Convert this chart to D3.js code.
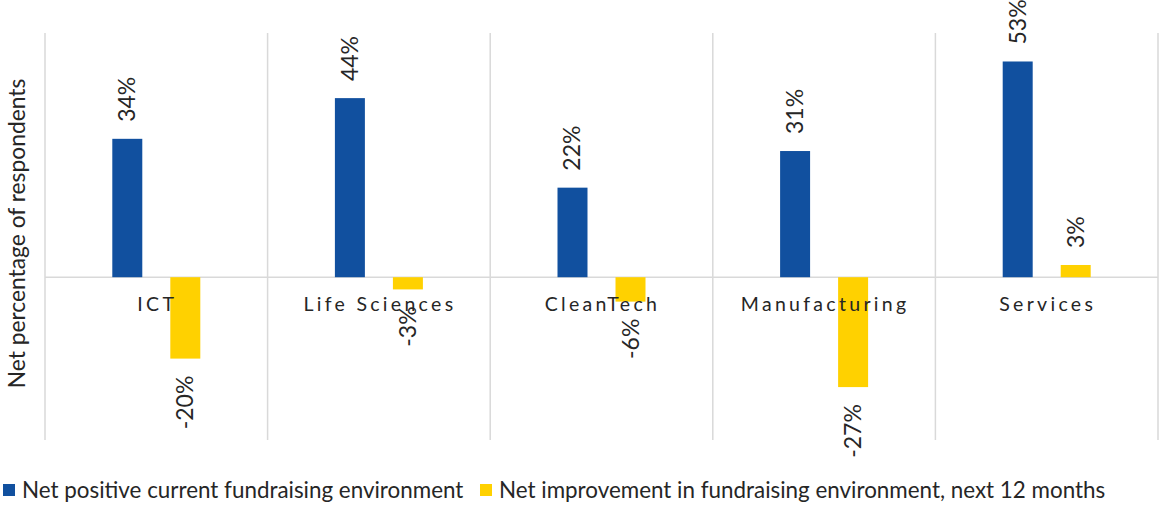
<!DOCTYPE html>
<html>
<head>
<meta charset="utf-8">
<script src="https://cdn.jsdelivr.net/npm/d3@7"></script>
<style>
  body { margin: 0; background: #fff; }
  svg { display: block; font-family: Lato, "Liberation Sans", sans-serif; }
</style>
</head>
<body>
<div id="chart"></div>
<script>
const categories = ["ICT", "Life Sciences", "CleanTech", "Manufacturing", "Services"];
const seriesNames = [
    "Net positive current fundraising environment",
    "Net improvement in fundraising environment, next 12 months"
];
const currentValues = [34, 44, 22, 31, 53];
const nextValues = [-20, -3, -6, -27, 3];
const colors = ["#11509f", "#ffd100"];

const width = 1159;
const height = 505;
const margin = { top: 33, right: 1, bottom: 65, left: 45 };

const svg = d3.select("#chart").append("svg")
    .attr("width", width)
    .attr("height", height);

const rows = categories.map((c, i) => ({ category: c, values: [currentValues[i], nextValues[i]] }));

const x0 = d3.scaleBand()
    .domain(categories)
    .range([margin.left, width - margin.right]);

const bw = x0.bandwidth();
const x1 = d3.scaleBand()
    .domain(d3.range(seriesNames.length))
    .range([bw / 2 - 44, bw / 2 + 44])
    .paddingInner(0.483);

const y = d3.scaleLinear()
    .domain([-40, 60])
    .range([height - margin.bottom, margin.top]);

// vertical gridlines at category boundaries
const bounds = categories.map(c => x0(c)).concat([x0(categories[categories.length - 1]) + bw]);
svg.append("g")
    .selectAll("line")
    .data(bounds)
    .enter().append("line")
        .attr("x1", d => d)
        .attr("x2", d => d)
        .attr("y1", y(60))
        .attr("y2", y(-40))
        .attr("stroke", "#d9d9d9")
        .attr("stroke-width", 1.5);

// zero line
svg.append("line")
    .attr("x1", margin.left)
    .attr("x2", width - margin.right)
    .attr("y1", y(0))
    .attr("y2", y(0))
    .attr("stroke", "#d9d9d9")
    .attr("stroke-width", 1.5);

const group = svg.selectAll(".cat")
    .data(rows)
    .enter().append("g")
        .attr("class", "cat")
        .attr("transform", d => `translate(${x0(d.category)},0)`);

group.selectAll("rect")
    .data(d => d.values)
    .enter().append("rect")
        .attr("x", (d, i) => x1(i))
        .attr("y", d => y(Math.max(0, d)))
        .attr("width", x1.bandwidth())
        .attr("height", d => Math.abs(y(d) - y(0)))
        .attr("fill", (d, i) => colors[i]);

// category labels
group.append("text")
    .attr("x", bw / 2 + 1)
    .attr("y", y(0) + 34)
    .attr("text-anchor", "middle")
    .style("font-size", "19.5px")
    .style("letter-spacing", "3.3px")
    .attr("fill", "#262626")
    .text(d => d.category);

// value labels, rotated
group.selectAll(".val")
    .data(d => d.values)
    .enter().append("text")
        .attr("class", "val")
        .attr("transform", (d, i) => {
            const cx = x1(i) + x1.bandwidth() / 2;
            const cy = d >= 0 ? y(d) - 17 : y(d) + 17;
            return `translate(${cx + 8},${cy}) rotate(-90)`;
        })
        .attr("text-anchor", d => d >= 0 ? "start" : "end")
        .style("font-size", "23px")
        .attr("fill", "#262626")
        .text(d => d + "%");

// y axis title
svg.append("text")
    .attr("transform", `translate(25,${(y(60) + y(-40)) / 2 - 3}) rotate(-90)`)
    .attr("text-anchor", "middle")
    .style("font-size", "22.8px")
    .attr("fill", "#262626")
    .text("Net percentage of respondents");

// legend
const legendX = [3, 480];
const legend = svg.append("g")
    .selectAll(".entry")
    .data(seriesNames)
    .enter().append("g")
        .attr("class", "entry")
        .attr("transform", (d, i) => `translate(${legendX[i]},484)`);

legend.append("rect")
    .attr("width", 12)
    .attr("height", 12)
    .attr("fill", (d, i) => colors[i]);

legend.append("text")
    .attr("x", 19)
    .attr("y", 13.5)
    .style("font-size", "22.4px")
    .attr("fill", "#262626")
    .text(d => d);
</script>
</body>
</html>
